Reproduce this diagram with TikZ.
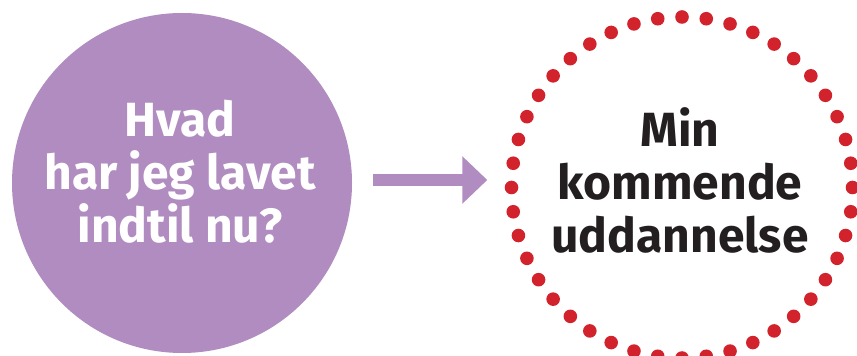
\documentclass[tikz,border=0pt]{standalone}
\usepackage{fontspec}
\setmainfont{Fira Sans}
\usetikzlibrary{arrows.meta}
\definecolor{lilla}{HTML}{B18CC0}
\definecolor{roed}{HTML}{D2232D}
\definecolor{sort}{HTML}{231F20}
\tikzset{
	rund/.style={circle,minimum size=340pt,inner sep=0pt},
	tekst/.style={align=center,inner sep=0pt,font=\fontsize{48}{53}\selectfont\bfseries},
	pil/.style={line width=12pt,lilla,-{Triangle[length=25pt,width=46pt]}}
}
\begin{document}
\begin{tikzpicture}[x=1pt,y=1pt]
		\useasboundingbox (0,0) rectangle (857,356);
		
		\node[rund,fill=lilla] (past) at (182,173) {};
		\node[rund] (future) at (682,168.5) {};
		
		\foreach \i in {0,...,43}
			\fill[roed] (future.center) ++(\i*360/44:170.5) circle [radius=6.8];
		
		\node[tekst,white] (pastlabel) at (180,184) {Hvad\\har jeg lavet\\indtil nu?};
		\node[tekst,sort] (futurelabel) at (680,175.5) {Min\\kommende\\uddannelse};
		
		\draw[pil,shorten <=21pt,shorten >=24.5pt] ([yshift=3pt]past.east) -- ([yshift=3pt]past.east -| future.west);
\end{tikzpicture}
\end{document}
